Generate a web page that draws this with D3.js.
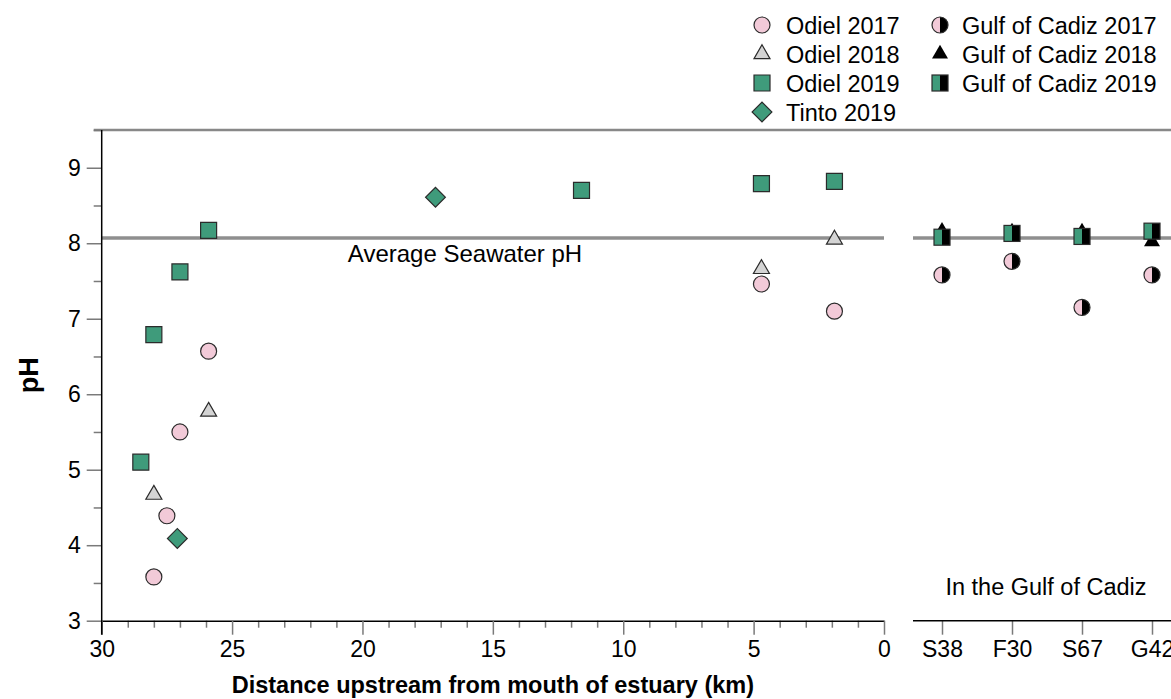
<!DOCTYPE html>
<html>
<head>
<meta charset="utf-8">
<script src="https://cdn.jsdelivr.net/npm/d3@7"></script>
<style>
  body { margin: 0; background: #fff; }
  text { font-family: "Liberation Sans", Arial, Helvetica, sans-serif; fill: #000; }
</style>
</head>
<body>
<script>
// ---- data ----
const odiel2017Km = [28.0, 27.5, 27.0, 25.9, 4.7, 1.9];
const odiel2017PH = [3.58, 4.39, 5.50, 6.57, 7.46, 7.10];

const odiel2018Km = [28.0, 25.9, 4.7, 1.9];
const odiel2018PH = [4.67, 5.77, 7.66, 8.05];

const odiel2019Km = [28.5, 28.0, 27.0, 25.9, 11.6, 4.7, 1.9];
const odiel2019PH = [5.10, 6.79, 7.62, 8.17, 8.70, 8.79, 8.82];

const tinto2019Km = [27.1, 17.2];
const tinto2019PH = [4.09, 8.61];

const stations = ["S38", "F30", "S67", "G42"];
const gulf2017PH = [7.58, 7.76, 7.15, 7.58];
const gulf2018PH = [8.16, 8.15, 8.15, 8.02];
const gulf2019PH = [8.08, 8.13, 8.09, 8.16];

const seawaterPH = 8.07;
const xMajorTicks = [30, 25, 20, 15, 10, 5, 0];
const yMajorTicks = [3, 4, 5, 6, 7, 8, 9];

const w = 1171;
const h = 699;

const pink = "#f2cad8";
const grey = "#d4d4d4";
const green = "#3f9b7b";
const edge = "#2b2b2b";
const tickGrey = "#7a7a7a";

const svg = d3.select("body")
  .append("svg")
  .attr("width", w)
  .attr("height", h);

// left panel: distance along estuary
const x = d3.scaleLinear().domain([30, 0]).range([101.7, 884]);
const y = d3.scaleLinear().domain([3, 9.5]).range([620.7, 130]);
// right panel: stations in the gulf
const xg = d3.scalePoint().domain(stations).range([942, 1152]);

// top border
svg.append("line")
  .attr("x1", x(30) - 8).attr("x2", w)
  .attr("y1", y(9.5)).attr("y2", y(9.5))
  .attr("stroke", "#888").attr("stroke-width", 2.5);

// average seawater lines
svg.append("line")
  .attr("x1", x(30)).attr("x2", x(0))
  .attr("y1", y(seawaterPH)).attr("y2", y(seawaterPH))
  .attr("stroke", "#8f8f8f").attr("stroke-width", 3.5);
svg.append("line")
  .attr("x1", xg("S38") - 29).attr("x2", w)
  .attr("y1", y(seawaterPH)).attr("y2", y(seawaterPH))
  .attr("stroke", "#8f8f8f").attr("stroke-width", 3.5);

// x axis (left panel)
const xMinor = d3.range(0, 31).filter(d => d % 5 !== 0);
svg.append("g")
  .attr("transform", `translate(0,${y(3)})`)
  .call(d3.axisBottom(x).tickValues(xMinor).tickSize(7).tickFormat(""))
  .call(g => g.select(".domain").remove())
  .call(g => g.selectAll(".tick line").attr("stroke", tickGrey).attr("stroke-width", 1.5));

svg.append("g")
  .attr("transform", `translate(0,${y(3)})`)
  .call(d3.axisBottom(x).tickValues(xMajorTicks).tickFormat(d3.format("d"))
    .tickSize(14).tickSizeOuter(0).tickPadding(6))
  .call(g => g.select(".domain").attr("stroke", "#000").attr("stroke-width", 1.5))
  .call(g => g.selectAll(".tick line").attr("stroke", tickGrey).attr("stroke-width", 1.5))
  .call(g => g.selectAll(".tick text").style("font-size", "23px").attr("fill", "#000"));

// y axis
const yMinor = [3.5, 4.5, 5.5, 6.5, 7.5, 8.5, 9.5];
svg.append("g")
  .attr("transform", `translate(${x(30)},0)`)
  .call(d3.axisLeft(y).tickValues(yMinor).tickSize(8).tickFormat(""))
  .call(g => g.select(".domain").remove())
  .call(g => g.selectAll(".tick line").attr("stroke", tickGrey).attr("stroke-width", 1.5));

svg.append("g")
  .attr("transform", `translate(${x(30)},0)`)
  .call(d3.axisLeft(y).tickValues(yMajorTicks).tickFormat(d3.format("d"))
    .tickSize(15).tickPadding(6))
  .call(g => g.select(".domain").remove())
  .call(g => g.selectAll(".tick line").attr("stroke", tickGrey).attr("stroke-width", 1.5))
  .call(g => g.selectAll(".tick text").style("font-size", "23px").attr("fill", "#000"));

svg.append("line")
  .attr("x1", x(30)).attr("x2", x(30))
  .attr("y1", y(9.5)).attr("y2", y(3) + 14)
  .attr("stroke", "#000").attr("stroke-width", 1.5);

// x axis (gulf panel)
svg.append("g")
  .attr("transform", `translate(0,${y(3)})`)
  .call(d3.axisBottom(xg).tickSize(14).tickSizeOuter(0).tickPadding(6))
  .call(g => g.select(".domain").remove())
  .call(g => g.selectAll(".tick line").attr("stroke", tickGrey).attr("stroke-width", 1.5))
  .call(g => g.selectAll(".tick text").style("font-size", "23px").attr("fill", "#000"));

svg.append("line")
  .attr("x1", xg("S38") - 29).attr("x2", w)
  .attr("y1", y(3)).attr("y2", y(3))
  .attr("stroke", "#000").attr("stroke-width", 1.5);

// axis titles and notes
svg.append("text")
  .attr("x", (x(30) + x(0)) / 2)
  .attr("y", 693)
  .attr("text-anchor", "middle")
  .style("font-size", "23.5px")
  .style("font-weight", "bold")
  .text("Distance upstream from mouth of estuary (km)");

svg.append("text")
  .attr("transform", `translate(38,${y(6.25)}) rotate(-90)`)
  .attr("text-anchor", "middle")
  .style("font-size", "27px")
  .style("font-weight", "bold")
  .text("pH");

svg.append("text")
  .attr("x", 465)
  .attr("y", 262)
  .attr("text-anchor", "middle")
  .style("font-size", "24px")
  .text("Average Seawater pH");

svg.append("text")
  .attr("x", 1046)
  .attr("y", 595)
  .attr("text-anchor", "middle")
  .style("font-size", "23.5px")
  .text("In the Gulf of Cadiz");

// ---- marker helpers ----
const triSize = Math.sqrt(3) / 4 * 16 * 16;
const circle = d3.symbol().type(d3.symbolCircle).size(Math.PI * 64);
const triangle = d3.symbol().type(d3.symbolTriangle).size(triSize);
const square = d3.symbol().type(d3.symbolSquare).size(256);
const diamond = d3.symbol().type(d3.symbolSquare).size(196);

function drawSymbol(g, gen, fill, rotate) {
  g.append("path")
    .attr("d", gen())
    .attr("transform", rotate ? "rotate(45)" : null)
    .attr("fill", fill)
    .attr("stroke", edge)
    .attr("stroke-width", 1.2);
}

function halfCircle(g) {
  const r = 8;
  g.append("path")
    .attr("d", `M0,${-r}A${r},${r} 0 0 0 0,${r}Z`)
    .attr("fill", pink);
  g.append("path")
    .attr("d", `M0,${-r}A${r},${r} 0 0 1 0,${r}Z`)
    .attr("fill", "#000");
  g.append("circle").attr("r", r).attr("fill", "none")
    .attr("stroke", edge).attr("stroke-width", 1.2);
}

function halfSquare(g) {
  const s = 8;
  g.append("rect").attr("x", -s).attr("y", -s).attr("width", s).attr("height", 2 * s)
    .attr("fill", green);
  g.append("rect").attr("x", 0).attr("y", -s).attr("width", s).attr("height", 2 * s)
    .attr("fill", "#000");
  g.append("rect").attr("x", -s).attr("y", -s).attr("width", 2 * s).attr("height", 2 * s)
    .attr("fill", "none").attr("stroke", edge).attr("stroke-width", 1.2);
}

function plotSeries(kms, phs, draw) {
  svg.append("g")
    .selectAll("g")
    .data(d3.zip(kms, phs))
    .enter()
    .append("g")
    .attr("transform", d => `translate(${x(d[0])},${y(d[1])})`)
    .each(function () { draw(d3.select(this)); });
}

function plotGulf(phs, draw) {
  svg.append("g")
    .selectAll("g")
    .data(d3.zip(stations, phs))
    .enter()
    .append("g")
    .attr("transform", d => `translate(${xg(d[0])},${y(d[1])})`)
    .each(function () { draw(d3.select(this)); });
}

plotSeries(odiel2017Km, odiel2017PH, g => drawSymbol(g, circle, pink));
plotSeries(odiel2018Km, odiel2018PH, g => drawSymbol(g, triangle, grey));
plotSeries(odiel2019Km, odiel2019PH, g => drawSymbol(g, square, green));
plotSeries(tinto2019Km, tinto2019PH, g => drawSymbol(g, diamond, green, true));

plotGulf(gulf2018PH, g => g.append("path").attr("d", triangle()).attr("fill", "#000"));
plotGulf(gulf2019PH, halfSquare);
plotGulf(gulf2017PH, halfCircle);

// ---- legend ----
const legendLeft = ["Odiel 2017", "Odiel 2018", "Odiel 2019", "Tinto 2019"];
const legendRight = ["Gulf of Cadiz 2017", "Gulf of Cadiz 2018", "Gulf of Cadiz 2019"];
const leftDraw = [
  g => drawSymbol(g, circle, pink),
  g => drawSymbol(g, triangle, grey),
  g => drawSymbol(g, square, green),
  g => drawSymbol(g, diamond, green, true)
];
const rightDraw = [
  halfCircle,
  g => g.append("path").attr("d", triangle()).attr("fill", "#000"),
  halfSquare
];

function legendColumn(labels, draws, sx, tx) {
  const item = svg.append("g")
    .selectAll("g")
    .data(labels)
    .enter()
    .append("g")
    .attr("transform", (d, i) => `translate(0,${25 + i * 29})`);
  item.append("g")
    .attr("transform", `translate(${sx},0)`)
    .each(function (d, i) { draws[i](d3.select(this)); });
  item.append("text")
    .attr("x", tx)
    .attr("y", 8.5)
    .style("font-size", "23.5px")
    .text(d => d);
}

legendColumn(legendLeft, leftDraw, 762, 786);
legendColumn(legendRight, rightDraw, 940, 962);
</script>
</body>
</html>
